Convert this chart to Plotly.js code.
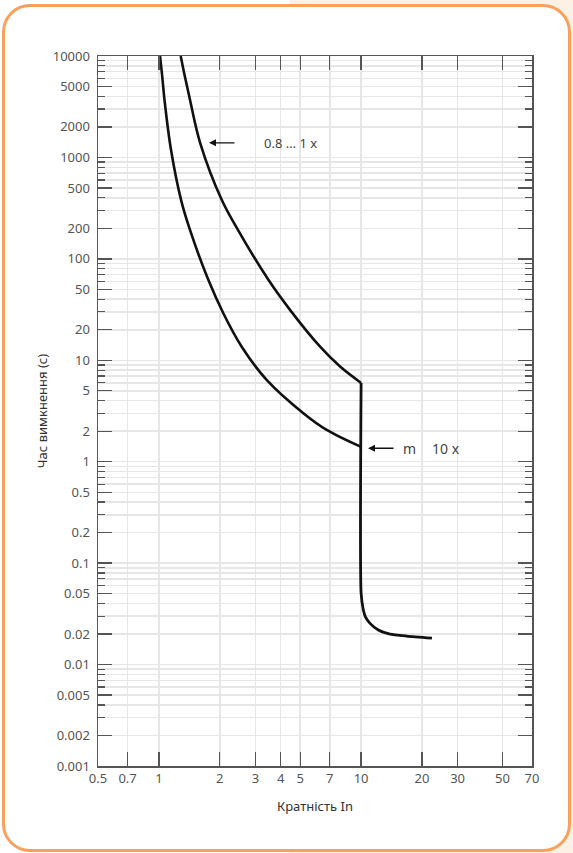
<!DOCTYPE html>
<html>
<head>
<meta charset="utf-8">
<script src="https://cdn.plot.ly/plotly-3.0.1.min.js"></script>
<style>
  html, body { margin: 0; padding: 0; background: #ffffff; }
  #wrap { position: relative; width: 573px; height: 853px; overflow: hidden;
          background: linear-gradient(to right, #ffffff 290px, #fdf0e4 290px); }
  #frame { position: absolute; left: 2px; top: 4px; width: 563px; height: 842px;
           border: 3px solid #f9a05b; border-radius: 28px; background: #ffffff; }
  #chart { position: absolute; left: 0; top: 0; width: 573px; height: 853px; }
</style>
</head>
<body>
<div id="wrap">
  <div id="frame"></div>
  <div id="chart"></div>
</div>
<script>
// Upper boundary curve (time-current, thermal release)
const upperX = [1.282, 1.339, 1.425, 1.598, 2.045, 2.46, 3.48, 4.45, 6.27, 7.87, 10];
const upperY = [10000, 6530, 3700, 1403, 382, 193, 62.1, 31.4, 13.6, 8.67, 5.98];
// Instantaneous release: vertical drop at 10 In and tail
const dropX = [10, 10, 10.26, 10.52, 11.07, 12.17, 13.9, 16.8, 22.4];
const dropY = [5.98, 0.0508, 0.0345, 0.0294, 0.0255, 0.0219, 0.020, 0.0191, 0.0182];
// Lower boundary curve
const lowerX = [1.013, 1.037, 1.066, 1.148, 1.287, 1.425, 1.756, 2.083, 2.568, 3.41, 5.18, 6.76, 10];
const lowerY = [10000, 6530, 3700, 1189, 382, 193, 62.1, 29.1, 13.6, 6.41, 3.01, 2.06, 1.40];

// Axis ticks
const xTickVals = [0.5, 0.7, 1, 2, 3, 4, 5, 7, 10, 20, 30, 50, 70];
const xTickText = ['0.5', '0.7', '1', '2', '3', '4', '5', '7', '10', '20', '30', '50', '70'];
const yTickVals = [0.001, 0.002, 0.005, 0.01, 0.02, 0.05, 0.1, 0.2, 0.5, 1, 2, 5, 10, 20, 50, 100, 200, 500, 1000, 2000, 5000, 10000];
const yTickText = ['0.001', '0.002', '0.005', '0.01', '0.02', '0.05', '0.1', '0.2', '0.5', '1', '2', '5', '10', '20', '50', '100', '200', '500', '1000', '2000', '5000', '10000'];
const yMinorMantissas = [1, 2, 3, 4, 5, 6, 7, 8, 9];
const yDecades = [0.001, 0.01, 0.1, 1, 10, 100, 1000];

// Annotation labels
const label1 = '0.8 … 1 x';
const label2a = 'm';
const label2b = '10 x';

const yMinorVals = [];
yDecades.forEach(d => yMinorMantissas.forEach(m => yMinorVals.push(+(d * m).toPrecision(3))));
yMinorVals.push(10000);

const L = Math.log10;
const font = 'Noto Sans, Open Sans, DejaVu Sans, sans-serif';
const lineStyle = { color: '#111111', width: 2.6, shape: 'spline', smoothing: 1 };

const traces = [
  { x: upperX, y: upperY, mode: 'lines', line: lineStyle, hoverinfo: 'skip', showlegend: false },
  { x: dropX, y: dropY, mode: 'lines', line: { color: '#111111', width: 2.8, shape: 'spline', smoothing: 0.6 }, hoverinfo: 'skip', showlegend: false },
  { x: lowerX, y: lowerY, mode: 'lines', line: lineStyle, hoverinfo: 'skip', showlegend: false }
];

const layout = {
  width: 573, height: 853,
  margin: { l: 98, r: 41, t: 56, b: 87 },
  paper_bgcolor: 'rgba(0,0,0,0)',
  plot_bgcolor: '#ffffff',
  font: { family: font, color: '#555555', size: 13 },
  xaxis: {
    type: 'log', range: [L(0.5), L(70)],
    tickmode: 'array', tickvals: xTickVals, ticktext: xTickText,
    ticks: 'inside', ticklen: 14, tickwidth: 1.3, tickcolor: '#555555',
    showline: true, linecolor: '#555555', linewidth: 1.5, mirror: 'allticks',
    showgrid: true, gridcolor: '#e6e6e6', gridwidth: 1.5,
    zeroline: false,
    tickfont: { size: 13, color: '#555555' },
    title: { text: 'Кратність In', font: { size: 13, color: '#333333' }, standoff: 16 }
  },
  yaxis: {
    type: 'log', range: [L(0.001), L(10000)],
    tickmode: 'array', tickvals: yTickVals, ticktext: yTickText,
    ticks: 'inside', ticklen: 14, tickwidth: 1.3, tickcolor: '#555555',
    showline: true, linecolor: '#555555', linewidth: 1.5, mirror: 'allticks',
    showgrid: true, gridcolor: '#e6e6e6', gridwidth: 1.5,
    zeroline: false,
    ticklabelstandoff: 4,
    tickfont: { size: 13, color: '#555555' },
    minor: {
      tickmode: 'array', tickvals: yMinorVals,
      ticks: 'inside', ticklen: 7, tickwidth: 1.2, tickcolor: '#555555',
      showgrid: true, gridcolor: '#e6e6e6', gridwidth: 1.5
    },
    title: { text: 'Час вимкнення (с)', font: { size: 13, color: '#333333' }, standoff: 2 }
  },
  annotations: [
    { x: L(1.77), y: L(1393), xref: 'x', yref: 'y', text: '', showarrow: true,
      ax: 27, ay: 0, arrowhead: 2, arrowsize: 1, arrowwidth: 1.4, arrowcolor: '#111111' },
    { x: L(3.24), y: L(1393), xref: 'x', yref: 'y', text: label1, showarrow: false,
      xanchor: 'left', yanchor: 'middle', font: { size: 13, color: '#444444' } },
    { x: L(10.82), y: L(1.358), xref: 'x', yref: 'y', text: '', showarrow: true,
      ax: 27, ay: 0, arrowhead: 2, arrowsize: 1, arrowwidth: 1.4, arrowcolor: '#111111' },
    { x: L(15.7), y: L(1.358), xref: 'x', yref: 'y', text: label2a, showarrow: false,
      xanchor: 'left', yanchor: 'middle', font: { size: 14, color: '#444444' } },
    { x: L(21.9), y: L(1.358), xref: 'x', yref: 'y', text: label2b, showarrow: false,
      xanchor: 'left', yanchor: 'middle', font: { size: 14, color: '#444444' } }
  ]
};

Plotly.newPlot('chart', traces, layout, { displayModeBar: false, staticPlot: true });
</script>
</body>
</html>
